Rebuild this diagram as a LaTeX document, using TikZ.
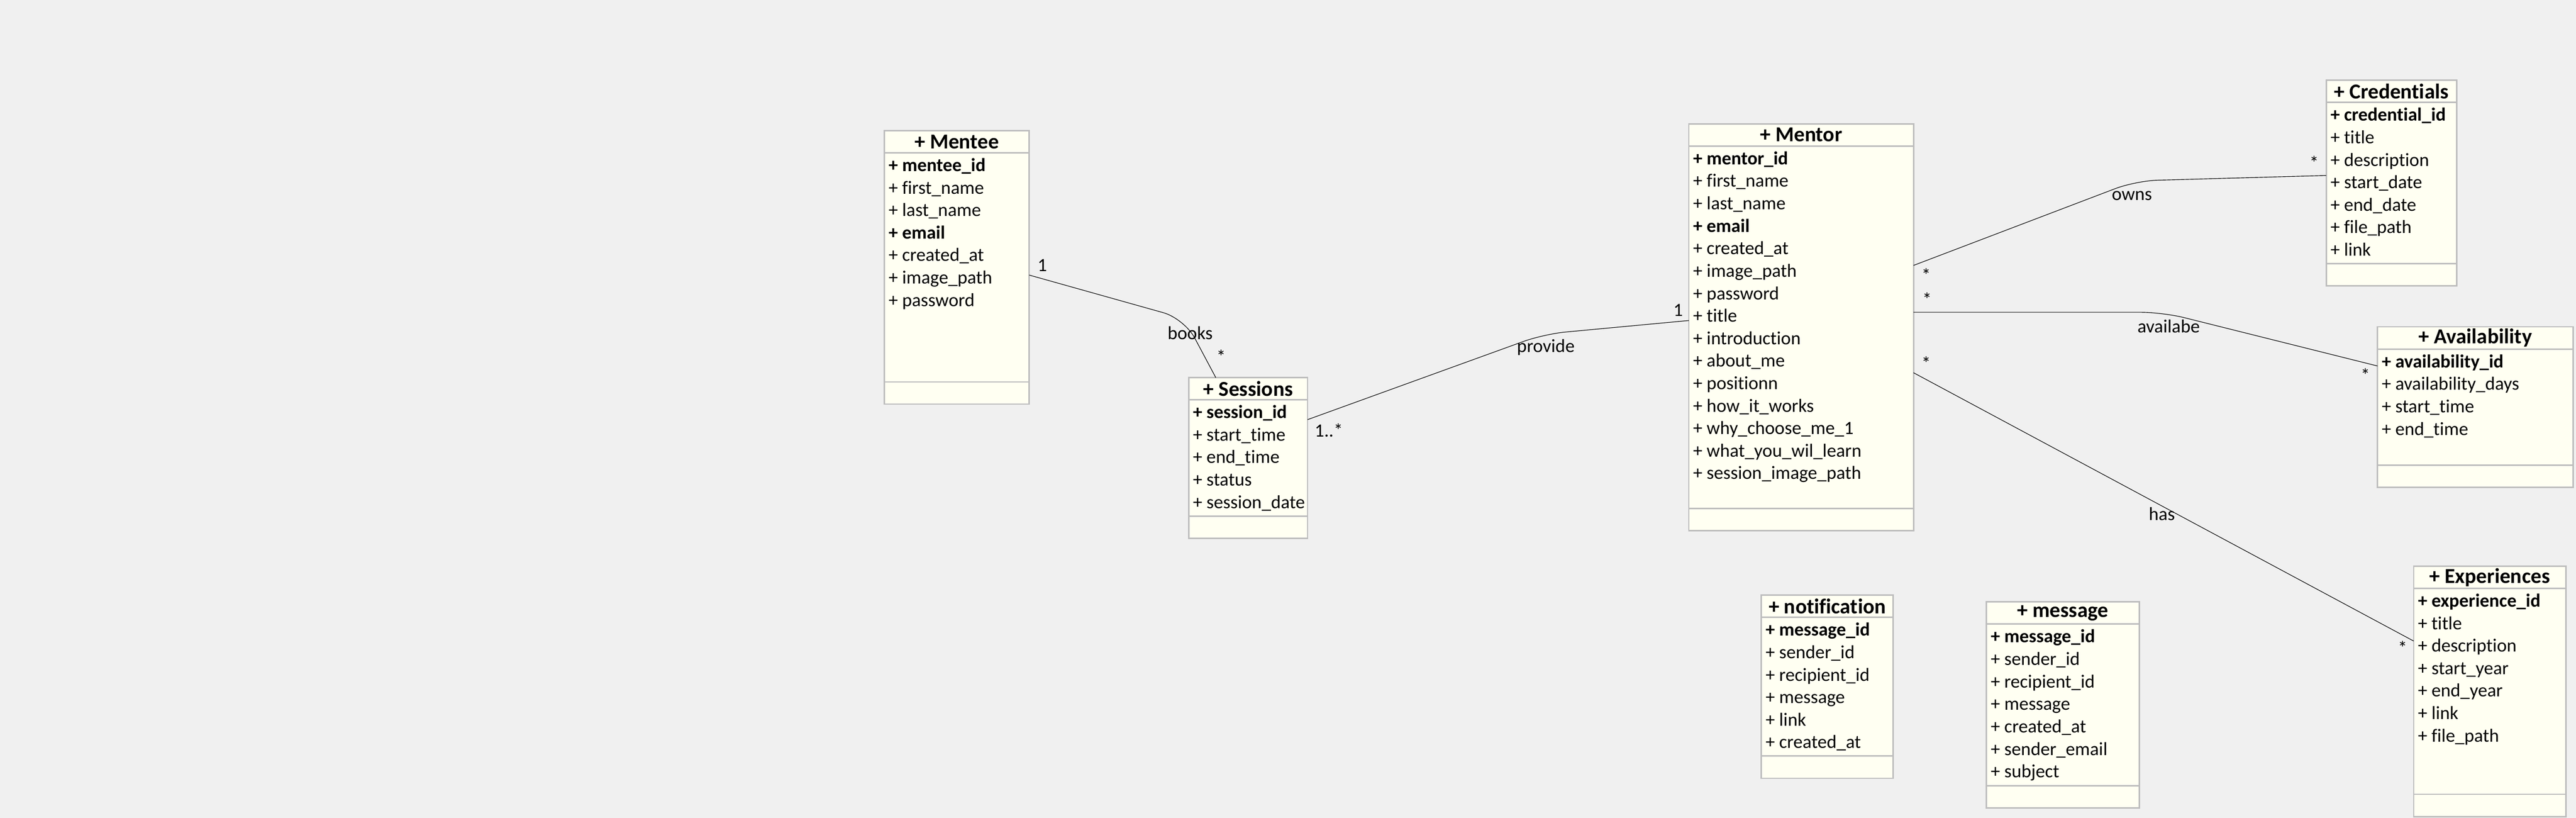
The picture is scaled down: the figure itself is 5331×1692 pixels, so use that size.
\documentclass[tikz,border=0pt]{standalone}
\usepackage{fontspec}
\setmainfont{Carlito}[Ligatures=NoCommon]
\usepackage{tikz}
\usetikzlibrary{shapes.multipart}
\usetikzlibrary{calc}
\definecolor{canvas}{HTML}{F0F0F0}
\definecolor{ivory}{HTML}{FFFFF2}
\definecolor{frame}{HTML}{BDBDBD}
\newlength\unitpx
\setlength\unitpx{0.1mm}
\newcommand\classhead[2]{\parbox[c][43\unitpx]{#1\unitpx}{\centering\fontsize{12.5}{15}\selectfont\bfseries #2}}
\newcommand\classattr[3]{\parbox[t][#2\unitpx][t]{#1\unitpx}{\fontsize{11}{13.23}\selectfont\leftskip=9\unitpx\rule{0pt}{37\unitpx}#3}}
\newcommand\classops[1]{\parbox[c][43\unitpx]{#1\unitpx}{\mbox{}}}
\tikzstyle{umlclass} = [rectangle split, rectangle split parts=3, draw=frame,
   line width=0.85pt, fill=ivory, inner sep=0pt, outer sep=0pt, anchor=north west]
\tikzstyle{assoc} = [draw=black, line width=0.35pt, rounded corners=4.5mm]
\tikzstyle{role} = [inner sep=0pt, font=\fontsize{11}{13}\selectfont]

\begin{document}
\begin{tikzpicture}[x=0.1mm, y=-0.1mm] %pixel grid, y downwards
    \fill[canvas] (0,0) rectangle (5331,1692);
    \node[umlclass] (mentee) at (1830,270) {\classhead{300}{+ Mentee}
      \nodepart{two}\classattr{300}{471}{\textbf{+ mentee\_id}\\+ first\_name\\+ last\_name\\\textbf{+ email}\\+ created\_at\\+ image\_path\\+ password}
      \nodepart{three}\classops{300}};
    \node[umlclass] (sessions) at (2460,781) {\classhead{246}{+ Sessions}
      \nodepart{two}\classattr{246}{238}{\textbf{+ session\_id}\\+ start\_time\\+ end\_time\\+ status\\+ session\_date}
      \nodepart{three}\classops{246}};
    \node[umlclass] (mentor) at (3495,256) {\classhead{465}{+ Mentor}
      \nodepart{two}\classattr{465}{747}{\textbf{+ mentor\_id}\\+ first\_name\\+ last\_name\\\textbf{+ email}\\+ created\_at\\+ image\_path\\+ password\\+ title\\+ introduction\\+ about\_me\\+ positionn\\+ how\_it\_works\\+ why\_choose\_me\_1\\+ what\_you\_wil\_learn\\+ session\_image\_path}
      \nodepart{three}\classops{465}};
    \node[umlclass] (credentials) at (4814,166) {\classhead{270}{+ Credentials}
      \nodepart{two}\classattr{270}{330}{\textbf{+ credential\_id}\\+ title\\+ description\\+ start\_date\\+ end\_date\\+ file\_path\\+ link}
      \nodepart{three}\classops{270}};
    \node[umlclass] (availability) at (4920,676) {\classhead{405}{+ Availability}
      \nodepart{two}\classattr{405}{237}{\textbf{+ availability\_id}\\+ availability\_days\\+ start\_time\\+ end\_time}
      \nodepart{three}\classops{405}};
    \node[umlclass] (experiences) at (4995,1171) {\classhead{315}{+ Experiences}
      \nodepart{two}\classattr{315}{423}{\textbf{+ experience\_id}\\+ title\\+ description\\+ start\_year\\+ end\_year\\+ link\\+ file\_path}
      \nodepart{three}\classops{315}};
    \node[umlclass] (notification) at (3645,1231) {\classhead{273}{+ notification}
      \nodepart{two}\classattr{273}{284}{\textbf{+ message\_id}\\+ sender\_id\\+ recipient\_id\\+ message\\+ link\\+ created\_at}
      \nodepart{three}\classops{273}};
    \node[umlclass] (message) at (4111,1245) {\classhead{316}{+ message}
      \nodepart{two}\classattr{316}{331}{\textbf{+ message\_id}\\+ sender\_id\\+ recipient\_id\\+ message\\+ created\_at\\+ sender\_email\\+ subject}
      \nodepart{three}\classops{316}};
    % bends of the associations
    \coordinate (books bend) at (2451,659);
    \coordinate (provide bend) at (3195,691);
    \coordinate (owns bend) at (4420,374);
    \coordinate (availabe bend) at (4476,646);
    \draw [assoc] ($(mentee.north east)+(0,299)$) -- (books bend) -- ($(sessions.north west)+(56,0)$);
    \draw [assoc] ($(sessions.north east)+(0,87)$) -- (provide bend) -- ($(mentor.north west)+(0,407)$);
    \draw [assoc] ($(mentor.north east)+(0,293)$) -- (owns bend) -- ($(credentials.north west)+(0,197)$);
    \draw [assoc] ($(mentor.north east)+(0,390)$) -- (availabe bend) -- ($(availability.north west)+(0,81)$);
    \draw [assoc] ($(mentor.north east)+(0,515)$) -- ($(experiences.north west)+(0,155)$);
    % labels and multiplicities
    \node[role] (books) at (2463,689) {books};
    \node[role] (mentee one) at (2157,549) {1};
    \node[role] (sessions many) at (2527,737) {*};
    \node[role] (provide) at (3199,718) {provide};
    \node[role] (sessions range) at (2750,890) {1..*};
    \node[role] (mentor one) at (3473,642) {1};
    \node[role] (owns) at (4412,405) {owns};
    \node[role] (owns mentor) at (3986,569) {*};
    \node[role] (owns credentials) at (4789,337) {*};
    \node[role] (availabe) at (4488,675) {availabe};
    \node[role] (availabe mentor) at (3988,619) {*};
    \node[role] (availabe availability) at (4895,776) {*};
    \node[role] (has) at (4474,1063) {has};
    \node[role] (has mentor) at (3986,751) {*};
    \node[role] (has experiences) at (4972,1340) {*};
\end{tikzpicture}
\end{document}
